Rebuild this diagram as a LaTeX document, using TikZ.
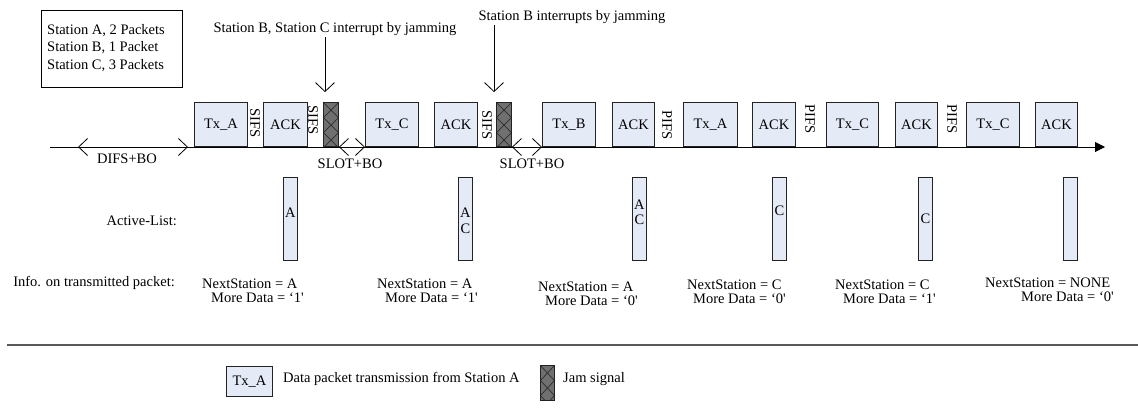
\documentclass[tikz,border=0pt]{standalone}
\usepackage{fontspec}
\setmainfont{Liberation Serif}
\usetikzlibrary{arrows.meta,calc}
\definecolor{boxfill}{RGB}{228,235,247}
\definecolor{jamfill}{RGB}{112,112,112}
\definecolor{jamline}{RGB}{45,45,45}
\definecolor{edge}{RGB}{35,35,35}
\begin{document}
\begin{tikzpicture}[x=1pt,y=-1pt,
  every node/.style={font=\fontsize{14.5}{17.5}\selectfont, inner sep=0pt},
  pkt/.style={draw=edge, line width=0.9pt, fill=boxfill, minimum width=#1, minimum height=44pt, anchor=south west},
  jam/.style={draw=edge, line width=0.9pt, fill=jamfill, minimum width=15pt, minimum height=#1, anchor=south west,
    path picture={
      \foreach \k in {-1,0,1,2,3}{
        \draw[jamline, line width=0.7pt] ([yshift={-\k*15pt}]path picture bounding box.north west) -- ([yshift={-\k*15pt-15pt}]path picture bounding box.north east);
        \draw[jamline, line width=0.7pt] ([yshift={-\k*15pt-15pt}]path picture bounding box.north west) -- ([yshift={-\k*15pt}]path picture bounding box.north east);
      }}},
  alist/.style={draw=edge, line width=0.9pt, fill=boxfill, minimum width=14pt, minimum height=83pt, anchor=north west},
  ifs/.style={rotate=-90},
  lbl/.style={anchor=base},
  span/.style={{Straight Barb[length=9pt,width=17pt]}-{Straight Barb[length=9pt,width=17pt]}, line width=0.8pt},
  pointer/.style={-{Straight Barb[length=9pt,width=19pt]}, line width=0.8pt},
  info/.style={anchor=base west}
]
\useasboundingbox (0,0) rectangle (1138,410);

% station box
\node[draw=black, line width=1pt, minimum width=141pt, minimum height=77pt, anchor=north west] (stations) at (41,10) {};
\node[anchor=west, align=left] (stationtxt) at (47,48) {Station A, 2 Packets\\Station B, 1 Packet\\Station C, 3 Packets};

% timeline
\coordinate (t0) at (50,147);
\coordinate (t1) at (1105,147);
\draw[line width=1pt, -{Triangle[length=10pt,width=10pt]}] (t0) -- (t1);

% packets
\node[pkt=53pt] (txa1) at (194,147) {Tx\_A};
\node[pkt=44pt] (ack1) at (263,147) {ACK};
\node[jam=44pt] (jam1) at (323,147) {};
\node[pkt=53pt] (txc1) at (365,147) {Tx\_C};
\node[pkt=43pt] (ack2) at (434,147) {ACK};
\node[jam=44pt] (jam2) at (496,147) {};
\node[pkt=53pt] (txb) at (542,147) {Tx\_B};
\node[pkt=42pt] (ack3) at (612,147) {ACK};
\node[pkt=54pt] (txa2) at (683,147) {Tx\_A};
\node[pkt=43pt] (ack4) at (752,147) {ACK};
\node[pkt=52pt] (txc2) at (826,147) {Tx\_C};
\node[pkt=42pt] (ack5) at (895,147) {ACK};
\node[pkt=53pt] (txc3) at (966,147) {Tx\_C};
\node[pkt=42pt] (ack6) at (1035,147) {ACK};

% inter frame spaces
\node[ifs] (s1) at (255,123) {SIFS};
\node[ifs] (s2) at (313,120) {SIFS};
\node[ifs] (s3) at (487,125) {SIFS};
\node[ifs] (p1) at (667,125) {PIFS};
\node[ifs] (p2) at (810,119) {PIFS};
\node[ifs] (p3) at (952,119) {PIFS};

% spans
\coordinate (d0) at (78,147);
\draw[span] (d0) -- (txa1.south west -| 188,0);
\node[lbl] (difs) at (127,163) {DIFS+BO};
\draw[span] (jam1.south east) -- (txc1.south west);
\node[lbl] (slot1) at (350,168) {SLOT+BO};
\draw[span] (jam2.south east) -- (txb.south west);
\node[lbl] (slot2) at (532,168) {SLOT+BO};

% jamming notes
\node[lbl] (note1) at (335,32) {Station B, Station C interrupt by jamming};
\node[lbl] (note2) at (572,20) {Station B interrupts by jamming};
\coordinate (n1a) at (jam1.north west -| 325,0);
\coordinate (n2a) at (jam2.north west -| 494,0);
\draw[pointer] (n1a |- 0,37) -- ([yshift=10pt]n1a);
\draw[pointer] (n2a |- 0,25) -- ([yshift=10pt]n2a);

% active list
\node[anchor=base east] (alab) at (177,225) {Active-List:};
\node[alist] (al1) at (283,177) {};
\node[alist] (al2) at (458,177) {};
\node[alist] (al3) at (632,177) {};
\node[alist] (al4) at (772,177) {};
\node[alist] (al5) at (918,177) {};
\node[alist] (al6) at (1063,177) {};
\node[lbl] at (al1.center |- 0,217) {A};
\node[lbl] at (al2.center |- 0,217) {A};
\node[lbl] at (al2.center |- 0,233) {C};
\node[lbl] at (al3.center |- 0,209) {A};
\node[lbl] at (al3.center |- 0,224) {C};
\node[lbl] at (al4.center |- 0,215) {C};
\node[lbl] at (al5.center |- 0,223) {C};

% info on packets
\node[anchor=base east] (ilab) at (175,286) {Info. on transmitted packet:};
\node[info] (ns1) at (202,288) {NextStation = A};
\node[info] (md1) at (211,302) {More Data = ‘1\textquotesingle};
\node[info] (ns2) at (377,288) {NextStation = A};
\node[info] (md2) at (385,302) {More Data = ‘1\textquotesingle};
\node[info] (ns3) at (538,291) {NextStation = A};
\node[info] (md3) at (545,305) {More Data = ‘0\textquotesingle};
\node[info] (ns4) at (687,289) {NextStation = C};
\node[info] (md4) at (693,303) {More Data = ‘0\textquotesingle};
\node[info] (ns5) at (835,289) {NextStation = C};
\node[info] (md5) at (843,303) {More Data = ‘1\textquotesingle};
\node[info] (ns6) at (985,287) {NextStation = NONE};
\node[info] (md6) at (1021,301) {More Data = ‘0\textquotesingle};

% separator
\coordinate (sep0) at (7,345);
\coordinate (sep1) at (1138,345);
\draw[line width=1.2pt, black!65] (sep0) -- (sep1);

% legend
\node[pkt=46pt, minimum height=30pt] (legtx) at (226,397) {Tx\_A};
\node[anchor=base west] (legtxt) at (283,382) {Data packet transmission from Station A};
\node[jam=35pt, minimum width=14pt] (legjam) at (540,401) {};
\node[anchor=base west] (legjamtxt) at (563,382) {Jam signal};
\end{tikzpicture}
\end{document}
